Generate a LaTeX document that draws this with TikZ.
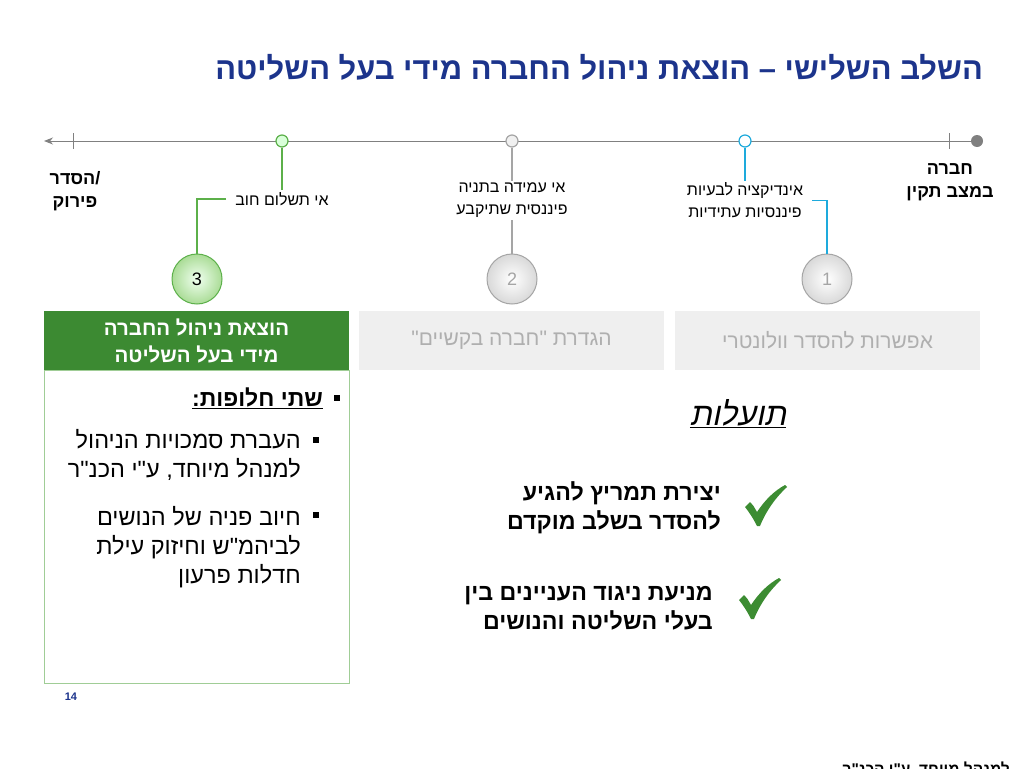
\documentclass[tikz,border=0pt]{standalone}
\usepackage{fontspec}
\setmainfont{Liberation Sans}
\newfontfamily\heb[Script=Hebrew]{Liberation Sans}
\newfontfamily\hebit[Script=Hebrew,FakeSlant=0.2]{Liberation Sans}
\TeXXeTstate=1
\newcommand{\RL}[1]{\beginR #1\endR}
\newcommand{\fsz}[2]{\fontsize{#1}{#2}\selectfont}
\usetikzlibrary{arrows.meta}
\definecolor{titleblue}{RGB}{28,52,140}
\definecolor{tlgray}{RGB}{128,128,128}
\definecolor{lgreen}{RGB}{92,176,74}
\definecolor{headgreen}{RGB}{60,138,50}
\definecolor{panelgreen}{RGB}{160,205,150}
\definecolor{tcyan}{RGB}{30,170,220}
\definecolor{boxgray}{RGB}{239,239,239}
\definecolor{boxtext}{RGB}{175,175,175}
\definecolor{cgray}{RGB}{165,165,165}
\definecolor{chk}{RGB}{60,140,50}
\definecolor{cgreenout}{RGB}{170,220,150}
\tikzset{
  tdot/.style={circle, draw, line width=1.2pt, minimum size=12pt, inner sep=0pt},
  bigc/.style={circle, line width=1pt, minimum size=50pt, inner sep=0pt, font=\fsz{18}{20}},
  lbl/.style={font=\heb\fsz{16}{22}, align=center, inner ysep=2pt, inner xsep=9pt},
  side/.style={font=\heb\bfseries\fsz{18}{23}, align=center, inner sep=0pt},
  hbox/.style={minimum width=305pt, minimum height=59pt, inner sep=0pt, align=center},
  bsq/.style={fill=black, minimum size=6.5pt, inner sep=0pt},
  btxt/.style={font=\heb\fsz{23.5}{29}, align=right, inner sep=0pt},
  ben/.style={font=\heb\bfseries\fsz{23.2}{29}, align=right, inner sep=0pt},
}
\begin{document}
\begin{tikzpicture}[x=1pt,y=-1pt]
\useasboundingbox (0,0) rectangle (1024,768);
\fill[white] (0,0) rectangle (1024,768);

% title
\node[anchor=base east, inner sep=0pt, text=titleblue, font=\heb\bfseries\fsz{30.9}{34}] (title) at (983,79)
  {\RL{השלב השלישי – הוצאת ניהול החברה מידי בעל השליטה}};

% timeline
\coordinate (tl) at (44,141);
\node[circle, fill=tlgray, minimum size=12pt, inner sep=0pt] (tr) at (977,141) {};
\draw[tlgray, line width=1pt, -{Stealth[length=9pt,width=7pt]}] (tr) -- (tl);
\draw[tlgray, line width=1pt] (73,133) -- (73,149);
\draw[tlgray, line width=1pt] (949,133) -- (949,149);

\node[tdot, draw=lgreen, fill=green!15] (t3) at (282,141) {};
\node[tdot, draw=cgray, fill=gray!12] (t2) at (512,141) {};
\node[tdot, draw=tcyan, fill=white] (t1) at (745,141) {};

% side labels
\node[side] (lend) at (75,191) {{\RL{הסדר}/}\\\RL{פירוק}};
\node[side] (rend) at (950,182) {\RL{חברה}\\\RL{במצב תקין}};

% event labels
\node[lbl] (lab3) at (282,199) {\RL{אי תשלום חוב}};
\node[lbl] (lab2) at (512,200.5) {\RL{אי עמידה בתניה}\\\RL{פיננסית שתיקבע}};
\node[lbl] (lab1) at (745,200.5) {\RL{אינדיקציה לבעיות}\\\RL{פיננסיות עתידיות}};

% stage circles
\node[bigc, draw=lgreen, inner color=green!6, outer color=cgreenout] (c3) at (197,279) {3};
\node[bigc, draw=cgray, inner color=white, outer color=gray!30, text=cgray] (c2) at (512,279) {2};
\node[bigc, draw=cgray, inner color=white, outer color=gray!30, text=cgray] (c1) at (827,279) {1};

% connectors
\draw[lgreen, line width=1.2pt] (t3) -- (lab3.north);
\draw[lgreen, line width=1.2pt] (lab3.west) -| (c3.north);
\draw[cgray, line width=1.2pt] (t2) -- (lab2.north);
\draw[cgray, line width=1.2pt] (lab2.south) -- (c2.north);
\draw[tcyan, line width=1.2pt] (t1) -- (lab1.north);
\draw[tcyan, line width=1.2pt] (lab1.east) -| (c1.north);

% stage boxes
\node[hbox, fill=headgreen, text=white, font=\heb\bfseries\fsz{20.5}{27}] (b3) at (196.5,340.5)
  {\RL{הוצאת ניהול החברה}\\\RL{מידי בעל השליטה}};
\node[hbox, fill=boxgray, text=boxtext, font=\heb\fsz{21}{24}] (b2) at (511.5,340.5)
  {\raisebox{-1.5pt}{\RL{הגדרת "חברה בקשיים"}}};
\node[hbox, fill=boxgray, text=boxtext, font=\heb\fsz{21}{24}] (b1) at (827.5,340.5)
  {\raisebox{-1.5pt}{\RL{אפשרות להסדר וולונטרי}}};

% panel under green box
\node[draw=panelgreen, line width=1pt, minimum width=305pt, minimum height=313pt, inner sep=0pt, anchor=north] (panel) at (196.5,370) {};

% bullets
\node[bsq] (q0) at (337,398) {};
\node[anchor=base east, inner sep=0pt, font=\heb\bfseries\fsz{23}{26}] (bl0) at (323,406)
  {\underline{\RL{שתי חלופות:}}};
\node[bsq] (q1) at (316,440) {};
\node[btxt, anchor=base east] (bl1) at (301,477)
  {\RL{העברת סמכויות הניהול}\\\RL{למנהל מיוחד, ע"י הכנ"ר}};
\node[bsq] (q2) at (316,515) {};
\node[btxt, anchor=base east] (bl2) at (301,583)
  {\RL{חיוב פניה של הנושים}\\\RL{לביהמ"ש וחיזוק עילת}\\\RL{חדלות פרעון}};

% benefits
\node[anchor=base, inner sep=0pt, font=\hebit\fsz{32}{36}] (tov) at (738,425)
  {\underline{\RL{תועלות}}};
\node[ben, anchor=base east] (ben1) at (721,529)
  {\RL{יצירת תמריץ להגיע}\\\RL{להסדר בשלב מוקדם}};
\node[ben, anchor=base east] (ben2) at (713,629)
  {\RL{מניעת ניגוד העניינים בין}\\\RL{בעלי השליטה והנושים}};

% check marks
\begin{scope}[shift={(745,485)}]
\fill[chk] (0,22) -- (5,17) .. controls (8,20) .. (12,27) .. controls (20,15) and (29,6) .. (40,0) -- (42,2)
  .. controls (31,12) and (21,26) .. (15,41) -- (12,41) .. controls (8,33) and (4,27) .. (0,22) -- cycle;
\end{scope}
\begin{scope}[shift={(739,578)}]
\fill[chk] (0,22) -- (5,17) .. controls (8,20) .. (12,27) .. controls (20,15) and (29,6) .. (40,0) -- (42,2)
  .. controls (31,12) and (21,26) .. (15,41) -- (12,41) .. controls (8,33) and (4,27) .. (0,22) -- cycle;
\end{scope}

% page number
\node[text=titleblue, font=\bfseries\fsz{11}{13}, inner sep=0pt] (pg) at (71,697) {14};

% clipped footer text
\node[anchor=base east, inner sep=0pt, font=\heb\bfseries\fsz{15.5}{18}] (foot) at (1010,774)
  {\RL{למנהל מיוחד, ע"י הכנ"ר}};
\end{tikzpicture}
\end{document}
